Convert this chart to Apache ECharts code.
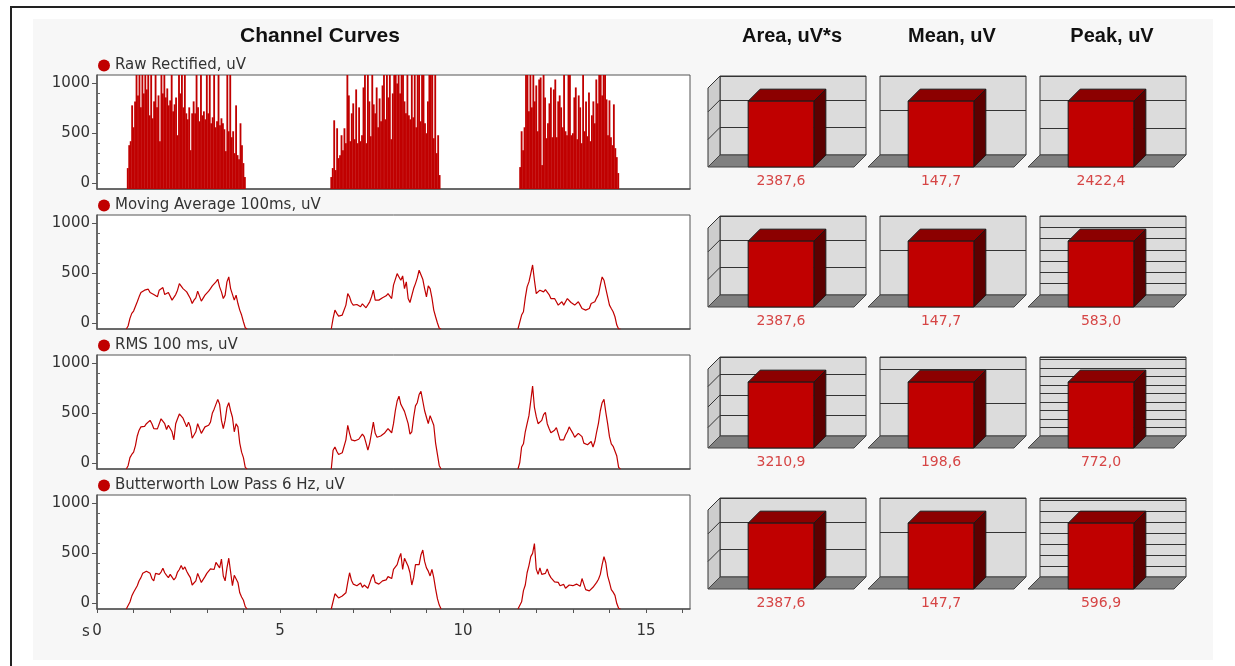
<!DOCTYPE html>
<html>
<head>
<meta charset="utf-8">
<script src="https://cdn.jsdelivr.net/npm/echarts@6/dist/echarts.min.js"></script>
<style>
html, body { margin: 0; padding: 0; background: #fff; }
#frame { position: absolute; left: 10px; top: 6px; width: 1300px; height: 700px; border-left: 2px solid #222; border-top: 2px solid #222; }
#panel { position: absolute; left: 33px; top: 19px; width: 1180px; height: 641px; background: #f7f7f7; }
#chart { position: absolute; left: 0; top: 0; width: 1235px; height: 666px; }
</style>
</head>
<body>
<div id="frame"></div>
<div id="panel"></div>
<div id="chart"></div>
<script>
var channelNames = ['Raw Rectified, uV', 'Moving Average 100ms, uV', 'RMS 100 ms, uV', 'Butterworth Low Pass 6 Hz, uV'];
var xTickLabels = [0, 5, 10, 15];
var yTickLabels = [0, 500, 1000];
var metricTitles = ['Area, uV*s', 'Mean, uV', 'Peak, uV'];

// raw rectified samples, 0.04 s apart, one array per burst
var rawStep = 0.04;
var rawStart = [0.84, 6.40, 11.56];
var rawBurst1 = [150, 380, 420, 780, 560, 820, 1100, 880, 1100, 760, 1100, 900, 1100, 940, 1100, 680, 1100, 650, 820, 1100,
  760, 880, 420, 1100, 900, 1100, 860, 950, 780, 830, 1100, 720, 790, 860, 480, 1100, 900, 1100, 760, 1100,
  700, 640, 760, 330, 700, 820, 700, 1100, 760, 620, 1100, 680, 720, 640, 1100, 700, 1100, 600, 660, 1100,
  560, 620, 1100, 580, 650, 600, 540, 320, 1100, 520, 1100, 460, 520, 300, 780, 280, 240, 600, 380, 200, 60];
var rawBurst2 = [60, 150, 630, 130, 550, 250, 280, 480, 330, 550, 400, 1100, 880, 420, 700, 800, 440, 940, 400, 760,
  420, 480, 960, 1100, 400, 1100, 820, 470, 1100, 790, 700, 960, 560, 850, 620, 980, 1100, 640, 1100, 860,
  1100, 440, 900, 1100, 1100, 1000, 1100, 900, 1100, 1100, 820, 700, 1100, 680, 640, 1100, 660, 1100, 560, 1100,
  1100, 620, 1100, 1100, 600, 500, 820, 1100, 1100, 1100, 450, 1100, 300, 480, 80];
var rawBurst3 = [160, 520, 330, 560, 1100, 1100, 720, 1100, 760, 1100, 820, 980, 520, 1040, 1060, 180, 1100, 860, 450, 600,
  800, 960, 460, 940, 1040, 460, 820, 880, 760, 560, 1100, 520, 480, 1100, 1100, 480, 500, 860, 960, 440,
  880, 760, 400, 1100, 520, 820, 470, 910, 420, 680, 820, 600, 1040, 800, 1100, 1100, 880, 1100, 1100, 840,
  480, 830, 460, 380, 790, 350, 260, 100];

// processed channels, 0.05 s apart, one array per burst
var smoothStep = 0.05;
var smoothStart = [0.8, 6.4, 11.5];
var maBurst1 = [-60, -30, 47, 97, 120, 140, 213, 263, 306, 320,
  330, 340, 340, 306, 306, 286, 273, 263, 330, 346,
  356, 286, 306, 306, 306, 230, 213, 286, 330, 396,
  380, 346, 353, 313, 313, 246, 196, 230, 253, 320,
  320, 220, 213, 280, 286, 320, 346, 373, 353, 413,
  440, 363, 313, 246, 280, 413, 463, 346, 330, 230,
  280, 196, 130, 80, 13, -47, -60];
var maBurst2 = [-60, 47, 130, 97, 70, 73, 80, 83, 180, 296,
  263, 206, 180, 180, 186, 170, 163, 193, 186, 153,
  163, 213, 263, 330, 230, 220, 230, 246, 253, 260,
  273, 296, 280, 246, 380, 396, 496, 463, 430, 473,
  346, 413, 246, 206, 213, 346, 396, 453, 530, 530,
  440, 346, 263, 373, 346, 253, 130, 63, 0, -53,
  -60];
var maBurst3 = [-60, -40, 80, 113, 253, 363, 413, 496, 583, 430,
  296, 306, 330, 320, 313, 336, 340, 286, 246, 230,
  246, 213, 180, 196, 213, 180, 163, 246, 263, 206,
  186, 180, 196, 213, 180, 146, 140, 130, 130, 146,
  196, 206, 213, 253, 286, 380, 463, 430, 346, 263,
  180, 146, 113, 63, -20, -60, -60];
var rmsBurst1 = [-60, -27, 54, 86, 109, 174, 272, 330, 363, 363,
  369, 395, 411, 428, 395, 346, 330, 343, 363, 444,
  434, 395, 337, 379, 363, 314, 233, 395, 444, 493,
  476, 450, 444, 363, 411, 363, 249, 281, 314, 395,
  346, 298, 281, 363, 369, 379, 411, 499, 541, 532,
  639, 590, 428, 346, 428, 558, 606, 525, 460, 314,
  395, 363, 200, 109, 54, -44, -60];
var rmsBurst2 = [-60, 129, 161, 119, 86, 96, 103, 116, 233, 379,
  298, 233, 216, 223, 233, 239, 249, 291, 265, 200,
  129, 200, 304, 411, 298, 259, 249, 272, 281, 298,
  304, 346, 346, 304, 395, 525, 623, 671, 590, 590,
  519, 509, 395, 291, 314, 460, 574, 606, 688, 720,
  623, 525, 460, 395, 476, 460, 379, 200, 86, -27,
  -60];
var rmsBurst3 = [-60, 5, 161, 193, 314, 395, 476, 623, 772, 558,
  466, 395, 395, 428, 486, 509, 395, 346, 304, 304,
  330, 356, 346, 233, 216, 233, 281, 314, 363, 330,
  298, 259, 249, 298, 288, 265, 200, 184, 184, 200,
  216, 161, 216, 314, 401, 525, 606, 639, 509, 395,
  265, 193, 168, 151, 70, -44, -60];
var bwBurst1 = [-60, -60, 10, 70, 109, 125, 174, 223, 255, 298,
  311, 320, 311, 298, 246, 223, 298, 298, 288, 311,
  350, 304, 278, 255, 288, 298, 233, 255, 311, 337,
  376, 337, 363, 320, 285, 255, 181, 190, 223, 298,
  288, 207, 223, 265, 298, 311, 343, 337, 337, 408,
  402, 353, 441, 272, 223, 353, 450, 434, 174, 278,
  298, 207, 103, 60, 28, -37, -60];
var bwBurst2 = [-60, -60, 93, 77, 51, 64, 70, 80, 103, 207,
  304, 229, 190, 181, 174, 190, 200, 158, 181, 168,
  148, 200, 255, 288, 207, 197, 190, 207, 223, 213,
  233, 265, 255, 246, 337, 353, 385, 450, 499, 337,
  450, 434, 369, 304, 181, 255, 385, 402, 385, 483,
  532, 418, 353, 320, 272, 337, 255, 142, 44, -21,
  -60];
var bwBurst3 = [-60, -60, 12, 125, 181, 304, 376, 466, 499, 597,
  340, 288, 353, 288, 278, 298, 343, 288, 255, 265,
  213, 233, 207, 174, 190, 187, 148, 158, 181, 187,
  174, 181, 190, 174, 168, 246, 190, 135, 116, 122,
  135, 158, 174, 207, 239, 288, 385, 466, 402, 272,
  207, 135, 109, 77, -5, -53, -60];

// bar panels, one value per channel row
var areaValues = [2387.6, 2387.6, 3210.9, 2387.6];
var meanValues = [147.7, 147.7, 198.6, 147.7];
var peakValues = [2422.4, 583.0, 772.0, 596.9];
var areaSteps = [1000, 1000, 1000, 1000];
var meanSteps = [100, 100, 100, 100];
var peakSteps = [1000, 100, 100, 100];

// layout
var FONT = 'DejaVu Sans, Verdana, sans-serif';
var TITLE_FONT = 'Liberation Sans, Arial, sans-serif';
var RED = '#c00000';
var plotLeft = 97, plotWidth = 593, plotHeight = 114;
var plotTops = [75, 215, 355, 495];
var yMin = -60, yMax = 1085, xMax = 16.2;
var wallLefts = [720, 880, 1040], wallWidth = 146, wallHeight = 79;
var wallTops = [76, 216, 357, 498];
var depth = 12;

function burstData(starts, step, bursts) {
    var out = [];
    bursts.forEach(function (vals, b) {
        vals.forEach(function (v, i) {
            out.push([+(starts[b] + i * step).toFixed(3), v]);
        });
        if (b < bursts.length - 1) out.push([starts[b] + vals.length * step, '-']);
    });
    return out;
}

function fmt(v) { return v.toFixed(1).replace('.', ','); }

var secTicks = [];
for (var s = 0; s <= 16; s++) secTicks.push(s);
var minorY = [];
for (var m = 100; m < 1000; m += 100) if (m !== 500) minorY.push(m);

var grids = [], xAxes = [], yAxes = [], series = [], legends = [], graphics = [];

graphics.push({ type: 'text', x: 320, y: 36, style: { text: 'Channel Curves', font: 'bold 21px ' + TITLE_FONT, fill: '#111', align: 'center', verticalAlign: 'middle' } });
metricTitles.forEach(function (t, c) {
    graphics.push({ type: 'text', x: wallLefts[c] + wallWidth / 2 - 1, y: 36, style: { text: t, font: 'bold 20px ' + TITLE_FONT, fill: '#111', align: 'center', verticalAlign: 'middle' } });
});
// unit of the time axis, left of the 0 label
graphics.push({ type: 'text', x: plotLeft - 11, y: plotTops[3] + plotHeight + 23, style: { text: 's', font: '15px ' + FONT, fill: '#333', align: 'center', verticalAlign: 'middle' } });

// channel curve plots
var smoothSets = [
    null,
    [maBurst1, maBurst2, maBurst3],
    [rmsBurst1, rmsBurst2, rmsBurst3],
    [bwBurst1, bwBurst2, bwBurst3]
];
plotTops.forEach(function (top, i) {
    var last = i === plotTops.length - 1;
    grids.push({ left: plotLeft, top: top, width: plotWidth, height: plotHeight, show: true, backgroundColor: '#fff', borderColor: '#555', borderWidth: 1 });
    xAxes.push({
        type: 'value', gridIndex: i, min: 0, max: xMax,
        axisLine: { onZero: false, lineStyle: { color: '#555', width: 1.5 } },
        axisTick: last ? { show: true, customValues: secTicks, length: 4, lineStyle: { color: '#555' } } : { show: false },
        axisLabel: last ? { show: true, customValues: xTickLabels, fontSize: 15, color: '#333', fontFamily: FONT, margin: 15 } : { show: false },
        splitLine: { show: false }
    });
    yAxes.push({
        type: 'value', gridIndex: i, min: yMin, max: yMax,
        axisLine: { show: true, onZero: false, lineStyle: { color: '#555', width: 1.5 } },
        axisTick: { show: true, customValues: yTickLabels, length: 5, lineStyle: { color: '#555' } },
        axisLabel: { customValues: yTickLabels, fontSize: 15, color: '#333', fontFamily: FONT, margin: 7, formatter: function (v) { return String(v); } },
        splitLine: { show: false }
    });
    yAxes.push({
        type: 'value', gridIndex: i, min: yMin, max: yMax,
        axisLine: { show: false },
        axisTick: { show: true, customValues: minorY, length: 3, lineStyle: { color: '#666' } },
        axisLabel: { show: false },
        splitLine: { show: false }
    });
    legends.push({
        data: [channelNames[i]], left: plotLeft + 1, top: top - 17, padding: 0,
        icon: 'circle', itemWidth: 12, itemHeight: 12, selectedMode: false,
        textStyle: { fontSize: 15, color: '#333', fontFamily: FONT }
    });
    if (i === 0) {
        series.push({
            name: channelNames[i], type: 'custom', xAxisIndex: i, yAxisIndex: i * 2,
            itemStyle: { color: RED }, clip: true,
            data: burstData(rawStart, rawStep, [rawBurst1, rawBurst2, rawBurst3]),
            renderItem: function (params, api) {
                var cs = params.coordSys;
                var p = api.coord([api.value(0), api.value(1)]);
                var w = api.size([rawStep, 0])[0] * 1.25;
                var yTop = Math.max(p[1], cs.y);
                var yBot = cs.y + cs.height;
                return { type: 'rect', shape: { x: p[0] - w / 2, y: yTop, width: w, height: yBot - yTop }, style: { fill: RED } };
            }
        });
    } else {
        series.push({
            name: channelNames[i], type: 'line', xAxisIndex: i, yAxisIndex: i * 2,
            showSymbol: false, color: RED, lineStyle: { width: 1.2, color: RED },
            data: burstData(smoothStart, smoothStep, smoothSets[i])
        });
    }
});

// 3D bar panels
function barRenderer(step, max, showSide) {
    return function (params, api) {
        var cs = params.coordSys;
        var v = api.value(1);
        var top = api.coord([0, v]);
        var base = api.coord([0, 0]);
        var bw = cs.width * 0.45;
        var x1 = top[0] - bw / 2, x2 = top[0] + bw / 2, yT = top[1], yB = base[1];
        var d = depth;
        var edge = { stroke: '#1a1a1a', lineWidth: 1 };
        var kids = [];
        if (showSide) {
            kids.push({ type: 'polygon', shape: { points: [[cs.x, cs.y], [cs.x, yB], [cs.x - d, yB + d], [cs.x - d, cs.y + d]] }, style: { fill: '#cdcdcd', stroke: '#333', lineWidth: 1 } });
            for (var k = step; k < max; k += step) {
                var y = api.coord([0, k])[1];
                kids.push({ type: 'line', shape: { x1: cs.x, y1: y, x2: cs.x - d, y2: y + d }, style: { stroke: '#333', lineWidth: 1 } });
            }
        }
        kids.push({ type: 'polygon', shape: { points: [[cs.x, yB], [cs.x + cs.width, yB], [cs.x + cs.width - d, yB + d], [cs.x - d, yB + d]] }, style: { fill: '#808080', stroke: '#444', lineWidth: 1 } });
        kids.push({ type: 'polygon', shape: { points: [[x2 - d, yT + d], [x2, yT], [x2, yB], [x2 - d, yB + d]] }, style: Object.assign({ fill: '#5c0000' }, edge) });
        kids.push({ type: 'polygon', shape: { points: [[x1 - d, yT + d], [x1, yT], [x2, yT], [x2 - d, yT + d]] }, style: Object.assign({ fill: '#8c0000' }, edge) });
        kids.push({ type: 'rect', shape: { x: x1 - d, y: yT + d, width: bw, height: yB - yT }, style: Object.assign({ fill: RED }, edge) });
        kids.push({ type: 'text', x: top[0] - d, y: yB + d + 14, style: { text: fmt(v), fill: '#d64545', font: '14px ' + FONT, align: 'center', verticalAlign: 'middle' } });
        return { type: 'group', children: kids };
    };
}

var metricValues = [areaValues, meanValues, peakValues];
var metricSteps = [areaSteps, meanSteps, peakSteps];
wallTops.forEach(function (top, r) {
    wallLefts.forEach(function (left, c) {
        var gi = grids.length;
        var val = metricValues[c][r];
        var max = val * 1.2;
        var step = metricSteps[c][r];
        grids.push({ left: left, top: top, width: wallWidth, height: wallHeight, show: true, backgroundColor: '#dcdcdc', borderColor: '#333', borderWidth: 1 });
        xAxes.push({ type: 'category', gridIndex: gi, data: [''], show: false });
        yAxes.push({
            type: 'value', gridIndex: gi, min: 0, max: max, interval: step,
            axisLine: { show: false }, axisTick: { show: false }, axisLabel: { show: false },
            splitLine: { show: true, lineStyle: { color: '#333', width: 1 } }
        });
        series.push({
            type: 'custom', xAxisIndex: xAxes.length - 1, yAxisIndex: yAxes.length - 1,
            clip: false, z: 3,
            data: [[0, val]],
            renderItem: barRenderer(step, max, c === 0)
        });
    });
});

var chart = echarts.init(document.getElementById('chart'), null, { renderer: 'canvas' });
chart.setOption({
    animation: false,
    grid: grids,
    xAxis: xAxes,
    yAxis: yAxes,
    legend: legends,
    graphic: graphics,
    series: series
});
</script>
</body>
</html>
